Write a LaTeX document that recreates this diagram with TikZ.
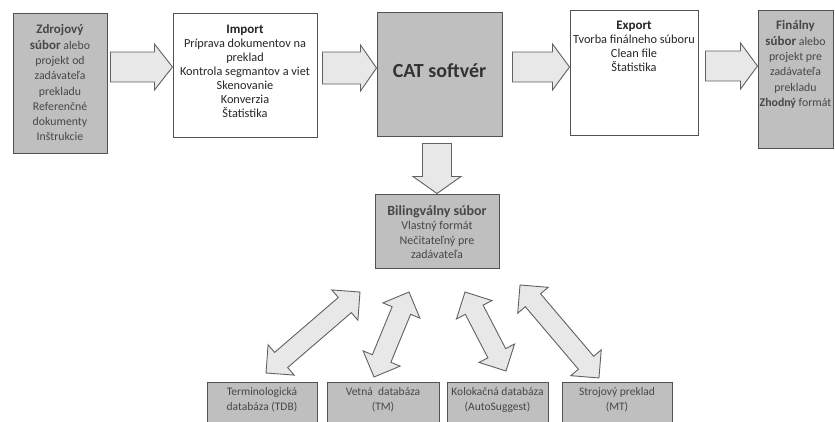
\documentclass[tikz,border=0pt]{standalone}
\usepackage{fontspec}
\setmainfont{Carlito}
\usetikzlibrary{calc}
\tikzset{
  graybox/.style={draw=black!68, fill=black!25, line width=1pt},
  whitebox/.style={draw=black!68, fill=white, line width=1pt},
  gtxt/.style={align=center, text=black!72, inner sep=0pt, font=\fontsize{11.8}{15.3}\selectfont},
  wtxt/.style={align=center, text=black!85, inner sep=0pt, font=\fontsize{12.3}{14}\selectfont},
  smalltxt/.style={align=center, text=black!72, inner sep=0pt, font=\fontsize{11.5}{14.5}\selectfont},
  blockarr/.style={draw=black!62, fill=black!9, line width=0.9pt, line join=miter},
}
\newcommand\hd[1]{{\bfseries\fontsize{13}{15}\selectfont #1}}
\newcommand\GetDir[2]{%
  \path let \p1=(#1), \p2=(#2) in \pgfextra{%
    \pgfmathsetmacro\ArrAng{atan2(\y2-\y1,\x2-\x1)}%
    \pgfmathsetmacro\ArrLen{veclen(\x2-\x1,\y2-\y1)}%
    \global\let\ArrAng\ArrAng \global\let\ArrLen\ArrLen};}
% single block arrow: from, to, shaft half, head half, head length
\newcommand\BlockArrow[5]{%
  \GetDir{#1}{#2}%
  \begin{scope}[shift={(#1)}, rotate=\ArrAng]
    \filldraw[blockarr] (0,-#3) -- ({\ArrLen-#5},-#3) -- ({\ArrLen-#5},-#4) -- (\ArrLen,0)
      -- ({\ArrLen-#5},#4) -- ({\ArrLen-#5},#3) -- (0,#3) -- cycle;
  \end{scope}}
% double block arrow
\newcommand\DoubleArrow[5]{%
  \GetDir{#1}{#2}%
  \begin{scope}[shift={(#1)}, rotate=\ArrAng]
    \filldraw[blockarr] (#5,-#3) -- ({\ArrLen-#5},-#3) -- ({\ArrLen-#5},-#4) -- (\ArrLen,0)
      -- ({\ArrLen-#5},#4) -- ({\ArrLen-#5},#3) -- (#5,#3) -- (#5,#4) -- (0,0) -- (#5,-#4) -- cycle;
  \end{scope}}
\begin{document}
\begin{tikzpicture}[x=1pt, y=-1pt]
\useasboundingbox[fill=white] (0,0) rectangle (835,421);

% boxes
\node[graybox, minimum width=94pt, minimum height=140pt] (src) at (60,83) {};
\node[whitebox, minimum width=144pt, minimum height=124pt] (imp) at (245,75) {};
\node[graybox, minimum width=125pt, minimum height=124pt] (cat) at (439.5,74) {};
\node[whitebox, minimum width=128pt, minimum height=125pt] (exp) at (634,72.5) {};
\node[graybox, minimum width=75pt, minimum height=138pt] (fin) at (795.5,79) {};
\node[graybox, minimum width=124pt, minimum height=74pt] (bil) at (437,231) {};
\node[graybox, minimum width=110pt, minimum height=42pt] (tdb) at (262,403) {};
\node[graybox, minimum width=112pt, minimum height=42pt] (tm) at (383,403) {};
\node[graybox, minimum width=101pt, minimum height=42pt] (kol) at (497.5,403) {};
\node[graybox, minimum width=110pt, minimum height=42pt] (mt) at (617,403) {};

% texts
\node[text=black!80, inner sep=0pt, font=\bfseries\fontsize{20}{24}\selectfont] (catt)
  at ($(cat)+(0,-3)$) {CAT softvér};
\node[gtxt, anchor=north] (srct) at ($(src.north)+(0,12)$)
  {\hd{Zdrojový}\\ \hd{súbor} alebo\\ projekt od\\ zadávateľa\\ prekladu\\ Referenčné\\ dokumenty\\ Inštrukcie};
\node[wtxt, anchor=north] (impt) at ($(imp.north)+(0,12)$)
  {\hd{Import}\\ Príprava dokumentov na\\ preklad\\ Kontrola segmantov a viet\\ Skenovanie\\ Konverzia\\ Štatistika};
\node[wtxt, anchor=north] (expt) at ($(exp.north)+(0,11)$)
  {\hd{Export}\\ Tvorba finálneho súboru\\ Clean file\\ Štatistika};
\node[gtxt, anchor=north] (fint) at ($(fin.north)+(0,11)$)
  {\hd{Finálny}\\ \hd{súbor} alebo\\ projekt pre\\ zadávateľa\\ prekladu\\ \textbf{Zhodný} formát};
\node[gtxt, font=\fontsize{12}{14.5}\selectfont] (bilt) at ($(bil)+(0,1)$)
  {{\bfseries\fontsize{14}{15}\selectfont Bilingválny súbor}\\ Vlastný formát\\ Nečitateľný pre\\ zadávateľa};
\node[smalltxt, anchor=north] (tdbt) at ($(tdb.north)+(0,6)$) {Terminologická\\ databáza (TDB)};
\node[smalltxt, anchor=north] (tmt) at ($(tm.north)+(0,6)$) {Vetná \ databáza\\ (TM)};
\node[smalltxt, anchor=north] (kolt) at ($(kol.north)+(0,6)$) {Kolokačná databáza\\ (AutoSuggest)};
\node[smalltxt, anchor=north] (mtt) at ($(mt.north)+(0,6)$) {Strojový preklad\\ (MT)};

% arrow rows
\coordinate (r1) at (0,67);
\coordinate (r2) at (0,68);
\coordinate (r4) at (0,66);
\coordinate (a1s) at ($(src.east|-r1)+(3,0)$);
\coordinate (a1e) at (imp.west|-r1);
\coordinate (a2s) at ($(imp.east|-r2)+(5,0)$);
\coordinate (a2e) at (cat.west|-r2);
\coordinate (a3s) at ($(cat.east|-r1)+(10,0)$);
\coordinate (a3e) at (exp.west|-r1);
\coordinate (a4s) at ($(exp.east|-r4)+(7,0)$);
\coordinate (a4e) at (fin.west|-r4);
\coordinate (a5s) at ($(bil.north|-cat.south)+(0,7)$);
\coordinate (a5e) at (bil.north);

\BlockArrow{a1s}{a1e}{15}{23}{18}
\BlockArrow{a2s}{a2e}{16}{23}{16}
\BlockArrow{a3s}{a3e}{15}{23}{17}
\BlockArrow{a4s}{a4e}{15}{23}{17}
\BlockArrow{a5s}{a5e}{14.5}{24}{17}

% double arrows
\coordinate (dA1) at (266,373);
\coordinate (dA2) at (360,292);
\coordinate (dB1) at (374,377);
\coordinate (dB2) at (409,292);
\coordinate (dC1) at (465,292);
\coordinate (dC2) at (506,371);
\coordinate (dD1) at (520,285);
\coordinate (dD2) at (599,378);
\DoubleArrow{dA1}{dA2}{10}{20}{20}
\DoubleArrow{dB1}{dB2}{10}{20}{20}
\DoubleArrow{dC1}{dC2}{10}{20}{20}
\DoubleArrow{dD1}{dD2}{10}{20}{20}
\end{tikzpicture}
\end{document}
